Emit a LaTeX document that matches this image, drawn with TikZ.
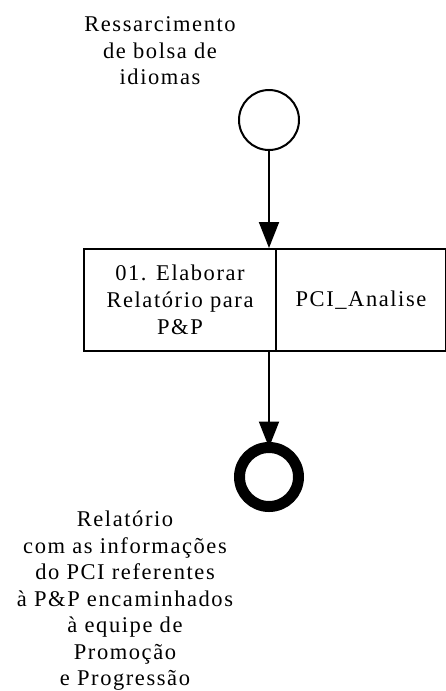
\documentclass[tikz,border=0pt]{standalone}
\usepackage{fontspec}
\setmainfont{Liberation Serif}[LetterSpace=7]
\usetikzlibrary{arrows.meta}
\begin{document}
\begin{tikzpicture}[x=1pt,y=-1pt,
  lbl/.style={align=center,inner sep=0pt,font=\fontsize{22.5}{26.5}\selectfont},
  cell/.style={draw,line width=2pt,minimum height=102pt,inner sep=0pt,anchor=north west,align=center,font=\fontsize{22.5}{27}\selectfont},
  flow/.style={line width=2pt,-{Triangle[width=20pt,length=26pt]}}]
\useasboundingbox (0,0) rectangle (446,691);
\node[draw,circle,line width=2pt,minimum size=60pt,inner sep=0pt] (start) at (269,120) {};
\node[lbl] (startlbl) at (160,51) {Ressarcimento\\de bolsa de\\idiomas};
\node[cell,minimum width=192pt] (task) at (83,248) {01. Elaborar\\Relatório para\\P\&P};
\node[cell,minimum width=170pt] (pci) at (275,248) {PCI\_Analise};
\node[draw,circle,line width=11pt,minimum size=59pt,inner sep=0pt] (end) at (269,477) {};
\node[lbl] (endlbl) at (125,601) {Relatório\\com as informações\\do PCI referentes\\à P\&P encaminhados\\à equipe de\\Promoção\\e Progressão};
\draw[flow] (start.south) -- (start.south |- task.north);
\draw[flow] (end.north |- task.south) -- ([yshift=-5.5pt]end.north);
\end{tikzpicture}
\end{document}
